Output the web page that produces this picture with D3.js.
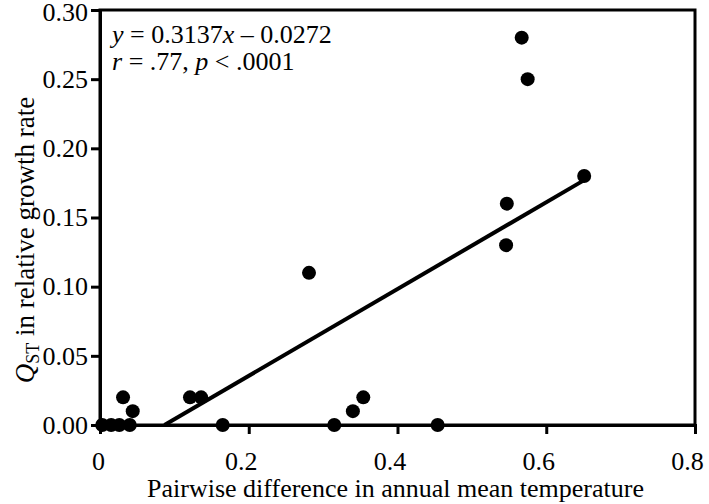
<!DOCTYPE html>
<html><head><meta charset="utf-8">
<script src="https://cdn.jsdelivr.net/npm/d3@7"></script>
<style>body{margin:0;background:#fff}svg{display:block}text{font-family:"Liberation Serif","Times New Roman",serif;fill:#000}</style>
</head><body>
<svg id="c" width="709" height="504"></svg>
<script>
const xVals = [0.003,0.015,0.026,0.040,0.031,0.044,0.121,0.136,0.165,0.281,0.315,0.340,0.354,0.454,0.546,0.547,0.567,0.575,0.651];
const yVals = [0.00,0.00,0.00,0.00,0.02,0.01,0.02,0.02,0.00,0.11,0.00,0.01,0.02,0.00,0.13,0.16,0.28,0.25,0.18];
const xTicks = [0,0.2,0.4,0.6,0.8];
const xTickLabels = ["0","0.2","0.4","0.6","0.8"];
const yTicks = [0,0.05,0.10,0.15,0.20,0.25,0.30];
const yTickLabels = ["0.00","0.05","0.10","0.15","0.20","0.25","0.30"];
const slope = 0.3137, intercept = -0.0272;
const fitRange = [0.0867, 0.651];

const FS = 26;
const svg = d3.select("#c");
const L=100,R=695,T=10,B=425;
const x = d3.scaleLinear().domain([0,0.8]).range([L,R]);
const y = d3.scaleLinear().domain([0,0.30]).range([B,T]);

// frame
svg.append("rect").attr("x",L).attr("y",T).attr("width",R-L).attr("height",B-T)
  .attr("fill","none").attr("stroke","#000").attr("stroke-width",3);

const xa = svg.append("g").attr("transform",`translate(0,${B})`)
  .call(d3.axisBottom(x).tickValues(xTicks).tickFormat((d,i)=>xTickLabels[i]).tickSize(9).tickPadding(18));
const ya = svg.append("g").attr("transform",`translate(${L},0)`)
  .call(d3.axisLeft(y).tickValues(yTicks).tickFormat((d,i)=>yTickLabels[i]).tickSize(9).tickPadding(3));
[xa,ya].forEach(g=>{
  g.attr("font-family",null);
  g.select(".domain").attr("stroke","#000").attr("stroke-width",3);
  g.selectAll(".tick line").attr("stroke","#000").attr("stroke-width",3);
  g.selectAll(".tick text").attr("font-size",FS);
});
xa.selectAll(".tick text").attr("dx",(d,i)=>i===0?-2:-8);
ya.selectAll(".tick text").filter(d=>d===0.30).attr("dy","0.40em");

// fit line
svg.append("line").attr("x1",x(fitRange[0])).attr("y1",y(slope*fitRange[0]+intercept))
  .attr("x2",x(fitRange[1])).attr("y2",y(slope*fitRange[1]+intercept))
  .attr("stroke","#000").attr("stroke-width",4);

svg.append("g").selectAll("circle").data(xVals).join("circle")
  .attr("cx",(d)=>x(d)).attr("cy",(d,i)=>y(yVals[i])).attr("r",7).attr("fill","#000");

// annotation
const a1 = svg.append("text").attr("x",112).attr("y",43).attr("font-size",FS);
a1.append("tspan").attr("font-style","italic").text("y");
a1.append("tspan").text(" = 0.3137");
a1.append("tspan").attr("font-style","italic").text("x");
a1.append("tspan").text(" \u2013 0.0272");
const a2 = svg.append("text").attr("x",112).attr("y",70).attr("font-size",FS);
a2.append("tspan").attr("font-style","italic").text("r");
a2.append("tspan").text(" = .77, ");
a2.append("tspan").attr("font-style","italic").text("p");
a2.append("tspan").text(" < .0001");

// axis titles
svg.append("text").attr("x",(L+R)/2-2).attr("y",497).attr("text-anchor","middle").attr("font-size",FS)
  .text("Pairwise difference in annual mean temperature");
const yl = svg.append("text").attr("transform","translate(34,240) rotate(-90)").attr("text-anchor","middle").attr("font-size",FS+1);
yl.append("tspan").attr("font-style","italic").text("Q");
yl.append("tspan").attr("font-size",18).attr("dy",5).text("ST");
yl.append("tspan").attr("dy",-5).text(" in relative growth rate");
</script>
</body></html>
